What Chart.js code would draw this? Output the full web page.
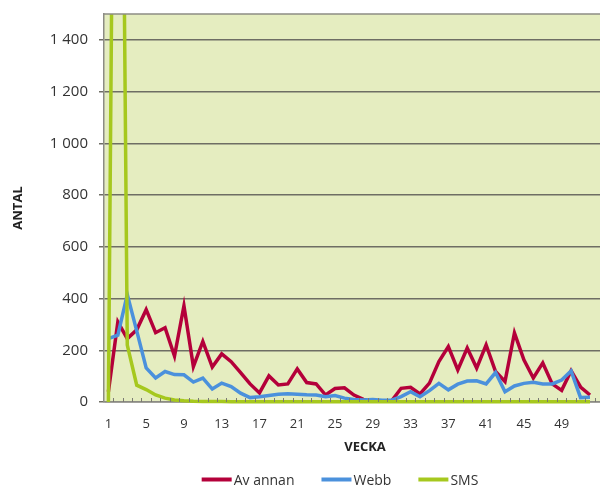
<!DOCTYPE html>
<html><head><meta charset="utf-8">
<script src="https://cdn.jsdelivr.net/npm/chart.js@4.4.1/dist/chart.umd.min.js"></script>
<style>html,body{margin:0;padding:0;background:#fff;overflow:hidden}#wrap{width:600px;height:488px;position:relative}</style>
</head><body><div id="wrap"><canvas id="c" width="600" height="488"></canvas></div>
<script>
const weeks = [1,2,3,4,5,6,7,8,9,10,11,12,13,14,15,16,17,18,19,20,21,22,23,24,25,26,27,28,29,30,31,32,33,34,35,36,37,38,39,40,41,42,43,44,45,46,47,48,49,50,51,52];
const avAnnan = [40,310,245,279,357,268,287,178,372,137,234,135,186,156,114,70,35,101,66,70,128,75,70,27,52,55,27,10,5,5,5,53,57,31,73,156,214,124,209,131,221,118,79,267,163,93,151,70,45,121,58,27];
const webb = [245,258,415,275,132,93,118,106,105,77,92,50,73,60,34,17,20,25,30,32,30,28,27,20,25,15,10,8,10,7,7,21,40,20,44,72,47,69,81,82,70,114,40,62,72,76,70,70,85,120,17,18];
const sms = [0,4500,220,65,48,27,15,8,5,3,2,2,2,1,1,1,1,1,1,1,1,1,1,1,1,1,1,1,1,1,1,1,1,1,1,1,1,1,1,1,1,1,1,1,1,1,1,1,1,1,1,1];
const seriesNames = ['Av annan','Webb','SMS'];
const seriesColors = ['#b4003a','#4b91dc','#a6c81e'];
const xTickValues = [1,5,9,13,17,21,25,29,33,37,41,45,49];
const yTickValues = [0,200,400,600,800,1000,1200,1400];
const yTickLabels = ['0','200','400','600','800','1 000','1 200','1 400'];
const xTitle = 'VECKA';
const yTitle = 'ANTAL';

const FONT = '"Open Sans", "DejaVu Sans", sans-serif';

const deco = {
  id: 'deco',
  beforeDraw(chart) {
    const {ctx, chartArea: a} = chart;
    ctx.save();
    ctx.fillStyle = '#e5edc0';
    ctx.fillRect(a.left, a.top, a.right - a.left, a.bottom - a.top);
    ctx.restore();
  },
  afterDraw(chart) {
    const {ctx, chartArea: a, scales: {x}} = chart;
    ctx.save();
    ctx.strokeStyle = '#8c8c84';
    ctx.lineWidth = 1.5;
    ctx.beginPath();
    ctx.moveTo(a.left, a.top);
    ctx.lineTo(a.right, a.top);
    ctx.stroke();
    ctx.strokeStyle = '#7a7a72';
    ctx.lineWidth = 1;
    ctx.beginPath();
    for (let k = 0; k < weeks.length; k++) {
      const px = x.getPixelForValue(weeks[k] + 0.5);
      if (px > a.right) continue;
      ctx.moveTo(Math.round(px) + 0.5, a.bottom);
      ctx.lineTo(Math.round(px) + 0.5, a.bottom - 4);
    }
    ctx.stroke();
    ctx.fillStyle = '#222';
    ctx.font = 'bold 13px ' + FONT;
    ctx.textAlign = 'center';
    ctx.textBaseline = 'middle';
    ctx.fillText(xTitle, 365, 447);
    ctx.font = '14px ' + FONT;
    const sw = 30, gap = 2, spacing = 27;
    const widths = seriesNames.map(n => ctx.measureText(n).width);
    let total = 0;
    widths.forEach((w, i) => { total += sw + gap + w + (i < widths.length - 1 ? spacing : 0); });
    let lx = 340 - total / 2;
    ctx.textAlign = 'left';
    chart.data.datasets.forEach((ds, i) => {
      ctx.strokeStyle = ds.borderColor;
      ctx.lineWidth = 4;
      ctx.lineCap = 'butt';
      ctx.beginPath();
      ctx.moveTo(lx, 479.5);
      ctx.lineTo(lx + sw, 479.5);
      ctx.stroke();
      ctx.fillStyle = '#333';
      ctx.fillText(ds.label, lx + sw + gap, 481);
      lx += sw + gap + widths[i] + spacing;
    });
    ctx.restore();
  }
};

const mk = (i, data, order) => ({
  label: seriesNames[i], data, borderColor: seriesColors[i], backgroundColor: seriesColors[i],
  borderWidth: 3.5, pointRadius: 0, tension: 0, fill: false, order,
  clip: {left: 2, top: 0, right: 0, bottom: 4}
});

function zeroPad(s) { s.paddingTop = 0; s.paddingBottom = 0; s.paddingLeft = 0; s.paddingRight = 0; }

new Chart(document.getElementById('c'), {
  type: 'line',
  data: {
    labels: weeks,
    datasets: [mk(0, avAnnan, 3), mk(1, webb, 2), mk(2, sms, 1)]
  },
  plugins: [deco],
  options: {
    responsive: false,
    animation: false,
    layout: {padding: {top: 14, right: 0, left: 0, bottom: 0}},
    plugins: {legend: {display: false}, tooltip: {enabled: false}},
    scales: {
      x: {
        type: 'linear',
        min: 0.534,
        max: 53.06,
        afterFit(s) { s.height = 86; zeroPad(s); },
        afterBuildTicks(s) { s.ticks = xTickValues.map(v => ({value: v})); },
        grid: {display: false},
        border: {display: true, color: '#8c8c84', width: 1.5},
        ticks: {
          autoSkip: false, maxRotation: 0, padding: 6,
          color: '#333', font: {family: FONT, size: 13},
          callback: v => String(v)
        }
      },
      y: {
        min: 0,
        max: 1500,
        afterFit(s) { s.width = 104; zeroPad(s); },
        afterBuildTicks(s) { s.ticks = yTickValues.map(v => ({value: v})); },
        grid: {color: '#6e6e64', lineWidth: 1.5, tickLength: 5, drawTicks: true},
        border: {display: true, color: '#8c8c84', width: 1.5},
        ticks: {
          padding: 11, color: '#333', font: {family: FONT, size: 15},
          callback: v => yTickLabels[yTickValues.indexOf(v)]
        },
        title: {display: true, text: yTitle, color: '#222', font: {family: FONT, size: 13, weight: 'bold'}, padding: {top: 10, bottom: 0}}
      }
    }
  }
});
</script>
</body></html>
